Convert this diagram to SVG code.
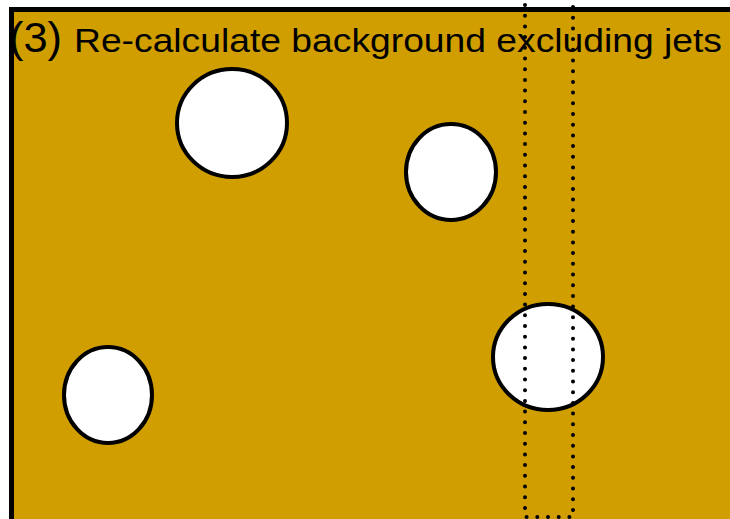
<svg xmlns="http://www.w3.org/2000/svg" width="730" height="519" viewBox="0 0 730 519">
<style>
.jet{fill:#fff;stroke:#000;stroke-width:4}
.win{fill:none;stroke:#000;stroke-width:4;stroke-linecap:round;stroke-dasharray:0 10.7}
.t{font-family:"Liberation Sans",Arial,sans-serif;fill:#000}
</style>
<rect x="0" y="0" width="730" height="519" fill="#fff"/>
<rect id="bg" x="11.5" y="9.5" width="730" height="520" fill="#D19E00" stroke="#000" stroke-width="5"/>
<g id="jet1"><ellipse class="jet" cx="232" cy="123" rx="55" ry="54"/></g>
<g id="jet2"><ellipse class="jet" cx="451" cy="172" rx="45" ry="48"/></g>
<g id="jet3"><ellipse class="jet" cx="548" cy="357" rx="55" ry="53"/></g>
<g id="jet4"><ellipse class="jet" cx="108" cy="395" rx="44" ry="48"/></g>
<g id="window"><path class="win" d="M525 5 V517 H573 V5"/></g>
<text class="t" y="52"><tspan x="9" font-size="43" textLength="53" lengthAdjust="spacingAndGlyphs">(3)</tspan><tspan x="74" font-size="34" textLength="648" lengthAdjust="spacingAndGlyphs">Re-calculate background excluding jets</tspan></text>
</svg>
